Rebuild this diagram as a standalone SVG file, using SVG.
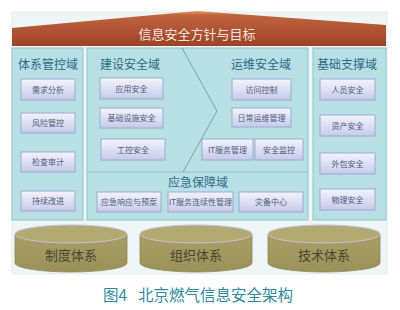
<svg xmlns="http://www.w3.org/2000/svg" width="400" height="310" viewBox="0 0 400 310">
<style>
  text { font-family: "Noto Sans CJK SC", "Noto Sans", sans-serif; text-anchor: middle; }
  .panel { fill: #b8dfe4; stroke: #8ec3cc; stroke-width: 1; }
  .title { font-size: 12px; fill: #2f6a86; }
  .box { fill: url(#boxg); stroke: #98acd2; stroke-width: 1; }
  .bt { font-size: 8px; fill: #4e5b80; }
  .cyl { fill: url(#cylg); stroke: #8f8758; stroke-width: 0.8; }
  .cyltop { fill: #b3aa72; stroke: #c9bde0; stroke-width: 1; }
  .ct { font-size: 13px; fill: #4a4630; }
</style>
<defs>
  <linearGradient id="boxg" x1="0" y1="0" x2="0" y2="1">
    <stop offset="0" stop-color="#f4f4fc"/>
    <stop offset="1" stop-color="#c6cae8"/>
  </linearGradient>
  <linearGradient id="roofg" x1="0" y1="0" x2="0" y2="1">
    <stop offset="0" stop-color="#e39a5a"/>
    <stop offset="0.12" stop-color="#c0643e"/>
    <stop offset="1" stop-color="#9c4228"/>
  </linearGradient>
  <linearGradient id="cylg" x1="0" y1="0" x2="0" y2="1">
    <stop offset="0" stop-color="#a89f66"/>
    <stop offset="1" stop-color="#9a9058"/>
  </linearGradient>
</defs>
<rect x="0" y="0" width="400" height="310" fill="#ffffff"/>
<rect x="12" y="12" width="375" height="262" fill="#eef5f5" stroke="#e2ecec" stroke-width="1"/>

<g id="roof">
  <polygon points="12,28 197,11 386,25 386,46 12,46" fill="url(#roofg)"/>
  <text x="197" y="39" style="font-size:13px;fill:#f4e6de">信息安全方针与目标</text>
</g>

<g id="tixi-guankong">
  <rect class="panel" x="12" y="48" width="71" height="172"/>
  <text class="title" x="48" y="69">体系管控域</text>
  <rect class="box" x="21" y="79" width="54" height="21"/>
  <text class="bt" x="48" y="92.5">需求分析</text>
  <rect class="box" x="21" y="113" width="54" height="20"/>
  <text class="bt" x="48" y="126">风险管控</text>
  <rect class="box" x="21" y="152" width="54" height="20"/>
  <text class="bt" x="48" y="165">检查审计</text>
  <rect class="box" x="21" y="191" width="54" height="20"/>
  <text class="bt" x="48" y="204">持续改进</text>
</g>

<g id="middle">
  <rect class="panel" x="87" y="48" width="221" height="172"/>
  <line x1="87" y1="172" x2="308" y2="172" stroke="#8ec3cc" stroke-width="1"/>
  <polyline points="182,48 217,111 183,172" fill="none" stroke="#6fa9b6" stroke-width="1"/>
</g>

<g id="jianshe">
  <text class="title" x="130" y="69">建设安全域</text>
  <rect class="box" x="100" y="78" width="63" height="21"/>
  <text class="bt" x="131.5" y="91.5">应用安全</text>
  <rect class="box" x="100" y="108" width="63" height="20"/>
  <text class="bt" x="131.5" y="121">基础设施安全</text>
  <rect class="box" x="101" y="139" width="64" height="21"/>
  <text class="bt" x="133" y="152.5">工控安全</text>
</g>

<g id="yunwei">
  <text class="title" x="261" y="69">运维安全域</text>
  <rect class="box" x="232" y="79" width="59" height="21"/>
  <text class="bt" x="261.5" y="92.5">访问控制</text>
  <rect class="box" x="232" y="108" width="59" height="19"/>
  <text class="bt" x="261.5" y="120.5">日常运维管理</text>
  <rect class="box" x="202" y="139" width="51" height="21"/>
  <text class="bt" x="227.5" y="152.5">IT服务管理</text>
  <rect class="box" x="255" y="139" width="48" height="21"/>
  <text class="bt" x="279" y="152.5">安全监控</text>
</g>

<g id="yingji">
  <text class="title" x="198" y="187">应急保障域</text>
  <rect class="box" x="97" y="192" width="64" height="20"/>
  <text class="bt" x="129" y="205">应急响应与预案</text>
  <rect class="box" x="168" y="192" width="65" height="20"/>
  <text class="bt" x="200.5" y="205">IT服务连续性管理</text>
  <rect class="box" x="239" y="192" width="64" height="20"/>
  <text class="bt" x="271" y="205">灾备中心</text>
</g>

<g id="jichu-zhicheng">
  <rect class="panel" x="313" y="48" width="73" height="172"/>
  <text class="title" x="347" y="69">基础支撑域</text>
  <rect class="box" x="320" y="79" width="55" height="21"/>
  <text class="bt" x="347.5" y="92.5">人员安全</text>
  <rect class="box" x="320" y="115" width="55" height="21"/>
  <text class="bt" x="347.5" y="128.5">资产安全</text>
  <rect class="box" x="320" y="153" width="55" height="21"/>
  <text class="bt" x="347.5" y="166.5">外包安全</text>
  <rect class="box" x="320" y="189" width="55" height="21"/>
  <text class="bt" x="347.5" y="202.5">物理安全</text>
</g>

<g id="connectors"></g>

<g id="zhidu">
  <path class="cyl" d="M15,234 L15,263 A56,9 0 0 0 127,263 L127,234 Z"/>
  <ellipse class="cyltop" cx="71" cy="234" rx="56" ry="9"/>
  <text class="ct" x="71" y="259.5">制度体系</text>
</g>
<g id="zuzhi">
  <path class="cyl" d="M140,234 L140,263 A56,9 0 0 0 252,263 L252,234 Z"/>
  <ellipse class="cyltop" cx="196" cy="234" rx="56" ry="9"/>
  <text class="ct" x="196" y="259.5">组织体系</text>
</g>
<g id="jishu">
  <path class="cyl" d="M268,234 L268,263 A56,9 0 0 0 380,263 L380,234 Z"/>
  <ellipse class="cyltop" cx="324" cy="234" rx="56" ry="9"/>
  <text class="ct" x="324" y="259.5">技术体系</text>
</g>

<g id="caption">
  <text x="103" y="301" style="font-size:15.5px;fill:#2f8aa0;text-anchor:start">图4<tspan dx="11">北京燃气信息安全架构</tspan></text>
</g>
</svg>
